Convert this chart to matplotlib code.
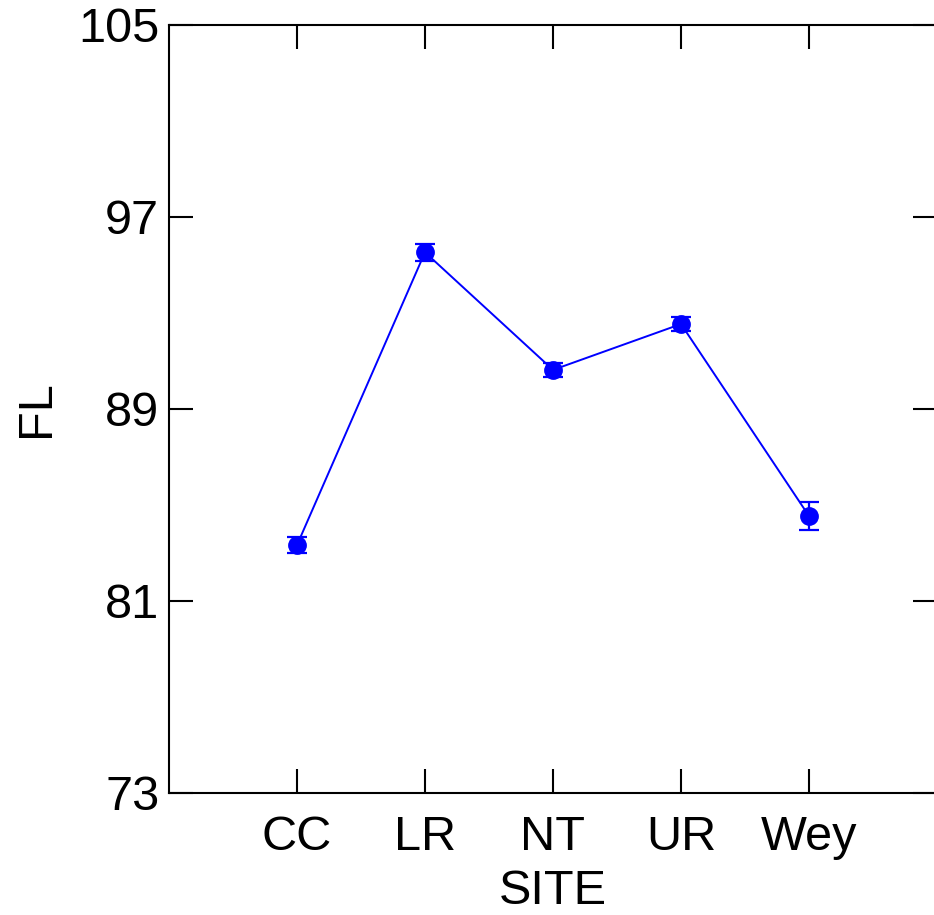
import numpy as np
import matplotlib.pyplot as plt

plt.rcParams['font.family'] = ['Liberation Sans', 'DejaVu Sans']

# data
sites = ['CC', 'LR', 'NT', 'UR', 'Wey']
fl_mean = [83.33, 95.53, 90.63, 92.54, 84.54]
fl_err = [0.33, 0.36, 0.28, 0.31, 0.58]
y_ticks = [73, 81, 89, 97, 105]

fig = plt.figure(figsize=(9.34, 9.15), dpi=100)
ax = fig.add_axes([169 / 934, 1 - 793 / 915, 768 / 934, 768 / 915])

xpos = np.arange(1, len(sites) + 1)
ax.errorbar(xpos, fl_mean, yerr=fl_err, color='#0000ff', marker='o',
            markersize=12.5, linewidth=1.4, elinewidth=1.6, capsize=7.5,
            capthick=1.6)

ax.set_xlim(0, len(sites) + 1)
ax.set_ylim(73, 105)
ax.set_xticks(xpos)
ax.set_xticklabels(sites)
ax.set_yticks(y_ticks)

for s in ax.spines.values():
    s.set_linewidth(1.5)

ax.tick_params(axis='both', direction='in', length=17, width=1.5,
               labelsize=35, top=True, right=True)
ax.tick_params(axis='y', pad=7)
ax.tick_params(axis='x', pad=16)

ax.set_xlabel('SITE', fontsize=35, labelpad=6)
ax.set_ylabel('FL', fontsize=35, labelpad=14)

fig.savefig('out.png', dpi=100)
plt.close(fig)
